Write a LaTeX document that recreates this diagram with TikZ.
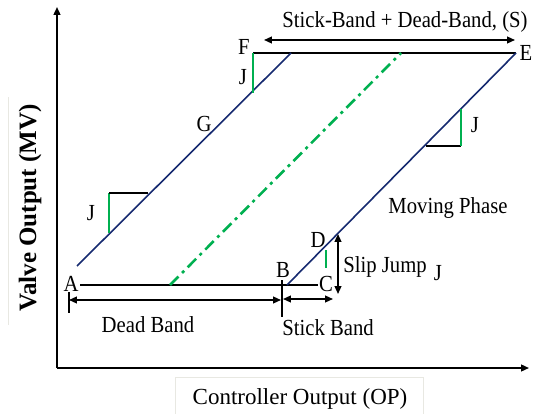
\documentclass[tikz,border=0pt]{standalone}
\usepackage{fontspec}
\setmainfont{Liberation Serif}
\usetikzlibrary{arrows.meta,positioning}
\definecolor{navy}{RGB}{22,42,112}
\definecolor{jade}{RGB}{0,176,80}
\definecolor{frame}{RGB}{232,232,226}
\tikzset{
  >={Triangle[length=2.8mm,width=2.4mm]},
  axis/.style={->,line width=1.7pt},
  band/.style={line width=1.6pt},
  dim/.style={<->,line width=1.6pt},
  phase/.style={draw=navy,line width=1.6pt},
  jump/.style={draw=jade,line width=1.5pt},
  lbl/.style={font=\fontsize{23}{25}\selectfont,inner sep=0pt,transform shape,xscale=0.9},
  title/.style={font=\fontsize{23}{25}\selectfont,inner sep=0pt},
}

\begin{document}
\begin{tikzpicture}[x=1pt,y=-1pt]
  \useasboundingbox (0,0) rectangle (538,414);
  % faint frames round the axis titles
  \draw[frame,line width=0.8pt] (8,97) -- (8,325);
  \draw[frame,line width=0.8pt] (175,414) |- (423,377) -- (423,414);
  % axes
  \coordinate (O) at (57,368);
  \coordinate (ytip) at (57,7);
  \coordinate (xtip) at (529,368);
  \draw[axis] (O) -- (ytip);
  \draw[axis] (O) -- (xtip);
  % corner points of the cycle
  \coordinate (A) at (80,285);
  \coordinate (B) at (287,285);
  \coordinate (C) at (318,285);
  \coordinate (E) at (516,53);
  \coordinate (F) at (253,53);
  \coordinate (start) at (77,266);
  \coordinate (Ftop) at (291,53);
  \coordinate (Ftoe) at (253,93);
  \coordinate (mid0) at (170,285);
  \coordinate (mid1) at (401,53);
  \draw[band] (A) -- (C);
  \draw[band] (F) -- (E);
  \draw[phase] (start) -- (Ftop);
  \draw[phase] (B) -- (E);
  \draw[jade,line width=2.6pt,dash pattern=on 12pt off 5pt on 3pt off 5pt] (mid0) -- (mid1);
  % stick-slip steps
  \draw[jump] (F) -- (Ftoe);
  \draw[jump] (109,233) -- (109,193);
  \draw[band] (109,193) -- (148,193);
  \draw[band] (426,146) -- (461,146);
  \draw[jump] (461,146) -- (461,109);
  \draw[jump] (326,250) -- (326,268);
  % dimension arrows
  \draw[dim] (264,40) -- (515,40);
  \draw[band] (69,292) -- (69,313);
  \draw[band] (282,280) -- (282,317);
  \draw[dim] (69,300) -- (281,300);
  \draw[dim] (283,299) -- (333,299);
  \draw[dim] (338,294) -- (338,234);
  % labels
  \node[lbl] (sdb) at (405,22) {Stick-Band + Dead-Band, (S)};
  \node[lbl] (lF) at (244,47) {F};
  \node[lbl] (lE) at (526,53) {E};
  \node[lbl] (lJ1) at (243,77) {J};
  \node[lbl] (lG) at (204,124) {G};
  \node[lbl] (lJ2) at (91,213) {J};
  \node[lbl] (lJ3) at (475,125) {J};
  \node[lbl] (mov) at (448,208) {Moving Phase};
  \node[lbl] (lD) at (318,240) {D};
  \node[lbl] (slip) at (385,267) {Slip Jump};
  \node[lbl] (lJ4) at (438,273) {J};
  \node[lbl] (lB) at (283,270) {B};
  \node[lbl] (lC) at (326,284) {C};
  \node[lbl] (lA) at (71,284) {A};
  \node[lbl] (dead) at (148,325) {Dead Band};
  \node[lbl] (stick) at (328,328) {Stick Band};
  \node[title] (xlab) at (300,399) {Controller Output (OP)};
  \node[title,font=\fontsize{25}{27}\selectfont\bfseries,rotate=90] (ylab) at (30,208) {Valve Output (MV)};
\end{tikzpicture}
\end{document}
